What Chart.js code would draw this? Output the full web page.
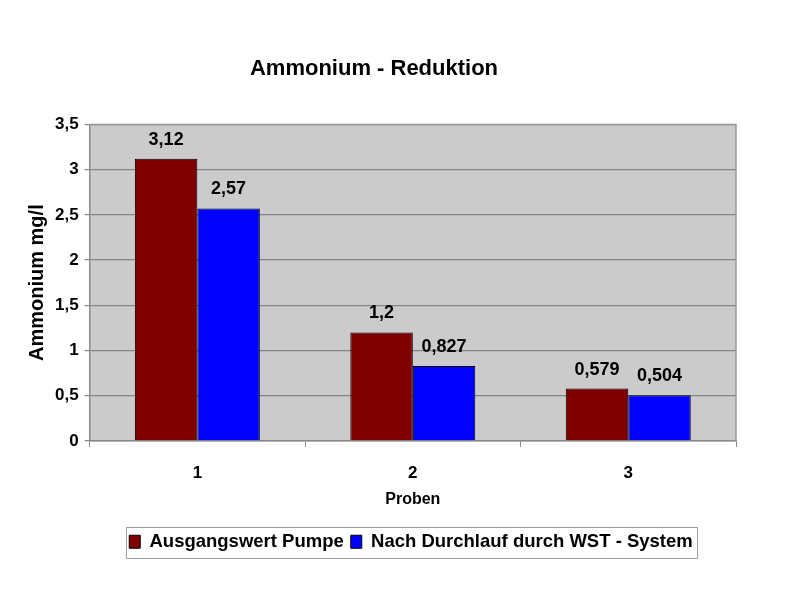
<!DOCTYPE html>
<html>
<head>
<meta charset="utf-8">
<script src="https://cdn.jsdelivr.net/npm/chart.js@4/dist/chart.umd.min.js"></script>
<style>
  html, body { margin: 0; padding: 0; background: #fff; }
  #wrap { width: 800px; height: 600px; }
</style>
</head>
<body>
<div id="wrap"><canvas id="myChart" width="800" height="600"></canvas></div>
<script>
// Daten
const proben = ["1", "2", "3"];
const ausgangswert = [3.12, 1.2, 0.579];
const nachDurchlauf = [2.57, 0.827, 0.504];
const serienNamen = ["Ausgangswert Pumpe", "Nach Durchlauf durch WST - System"];

const FONT = "'Liberation Sans', Arial, sans-serif";

function komma(v) {
    return String(v).replace(".", ",");
}

// grauer Hintergrund der Zeichenfläche
const plotBackground = {
    id: "plotBackground",
    beforeDraw(chart) {
        const { ctx, chartArea: a } = chart;
        ctx.save();
        ctx.fillStyle = "#cbcbcb";
        ctx.fillRect(a.left, a.top, a.right - a.left, a.bottom - a.top);
        ctx.restore();
    },
    afterDatasetsDraw(chart) {
        const { ctx, chartArea: a } = chart;
        ctx.save();
        ctx.strokeStyle = "#9a9a9a";
        ctx.lineWidth = 1.5;
        ctx.beginPath();
        ctx.moveTo(a.left, a.top);
        ctx.lineTo(a.right, a.top);
        ctx.lineTo(a.right, a.bottom);
        ctx.stroke();
        ctx.restore();
    }
};

// Werte über den Balken
const valueLabels = {
    id: "valueLabels",
    afterDatasetsDraw(chart) {
        const ctx = chart.ctx;
        ctx.save();
        ctx.font = "bold 18px " + FONT;
        ctx.fillStyle = "#000";
        ctx.textAlign = "center";
        ctx.textBaseline = "bottom";
        chart.data.datasets.forEach((ds, i) => {
            chart.getDatasetMeta(i).data.forEach((bar, j) => {
                ctx.fillText(komma(ds.data[j]), bar.x, bar.y - 10);
            });
        });
        ctx.restore();
    }
};

// Legende etwas nach rechts schieben (wie im Original) und umrahmen
const LEGEND_CENTER = 411;
const legendBox = {
    id: "legendBox",
    afterLayout(chart) {
        const lg = chart.legend;
        const shift = LEGEND_CENTER - (lg.left + lg.right) / 2;
        lg.left += shift;
        lg.right += shift;
    },
    afterDraw(chart) {
        const boxes = chart.legend.legendHitBoxes;
        if (!boxes || boxes.length == 0) return;
        const left = Math.min(...boxes.map(b => b.left)) - 3;
        const right = Math.max(...boxes.map(b => b.left + b.width)) + 4;
        const top = Math.min(...boxes.map(b => b.top)) - 6;
        const bottom = Math.max(...boxes.map(b => b.top + b.height)) + 6;
        const ctx = chart.ctx;
        ctx.save();
        ctx.strokeStyle = "#a0a0a0";
        ctx.lineWidth = 1;
        ctx.strokeRect(Math.round(left) + 0.5, Math.round(top) + 0.5, Math.round(right - left), Math.round(bottom - top));
        ctx.restore();
    }
};

const ctx = document.getElementById("myChart").getContext("2d");

new Chart(ctx, {
    type: "bar",
    data: {
        labels: proben,
        datasets: [
            {
                label: serienNamen[0],
                data: ausgangswert,
                backgroundColor: "#800000",
                borderColor: "#000",
                borderWidth: 1,
                categoryPercentage: 0.58,
                barPercentage: 1.0
            },
            {
                label: serienNamen[1],
                data: nachDurchlauf,
                backgroundColor: "#0000ff",
                borderColor: "#000",
                borderWidth: 1,
                categoryPercentage: 0.58,
                barPercentage: 1.0
            }
        ]
    },
    options: {
        responsive: false,
        animation: false,
        layout: { padding: { left: 12, right: 64, top: 0, bottom: 39 } },
        plugins: {
            title: {
                display: true,
                text: "Ammonium - Reduktion",
                color: "#000",
                font: { family: FONT, size: 22, weight: "bold" },
                padding: { top: 56, bottom: 42 }
            },
            legend: {
                position: "bottom",
                labels: {
                    color: "#000",
                    font: { family: FONT, size: 18.5, weight: "bold" },
                    boxWidth: 11,
                    boxHeight: 13,
                    padding: 7
                }
            },
            tooltip: { enabled: false }
        },
        scales: {
            x: {
                grid: {
                    offset: true,
                    drawOnChartArea: false,
                    drawTicks: true,
                    tickLength: 6,
                    color: "#888"
                },
                border: { color: "#888", width: 1.5 },
                ticks: {
                    color: "#000",
                    font: { family: FONT, size: 17, weight: "bold" },
                    padding: 16
                },
                title: {
                    display: true,
                    text: "Proben",
                    color: "#000",
                    font: { family: FONT, size: 16, weight: "bold" },
                    padding: { top: -9, bottom: 16 }
                }
            },
            y: {
                min: 0,
                max: 3.5,
                ticks: {
                    stepSize: 0.5,
                    color: "#000",
                    font: { family: FONT, size: 17, weight: "bold" },
                    padding: 6,
                    callback: v => komma(v)
                },
                grid: {
                    color: "#858585",
                    lineWidth: 1.2,
                    tickLength: 5
                },
                border: { color: "#888", width: 1.5 },
                title: {
                    display: true,
                    text: "Ammonium mg/l",
                    color: "#000",
                    font: { family: FONT, size: 20, weight: "bold" },
                    padding: { top: 13, bottom: 0 }
                }
            }
        }
    },
    plugins: [plotBackground, valueLabels, legendBox]
});
</script>
</body>
</html>
